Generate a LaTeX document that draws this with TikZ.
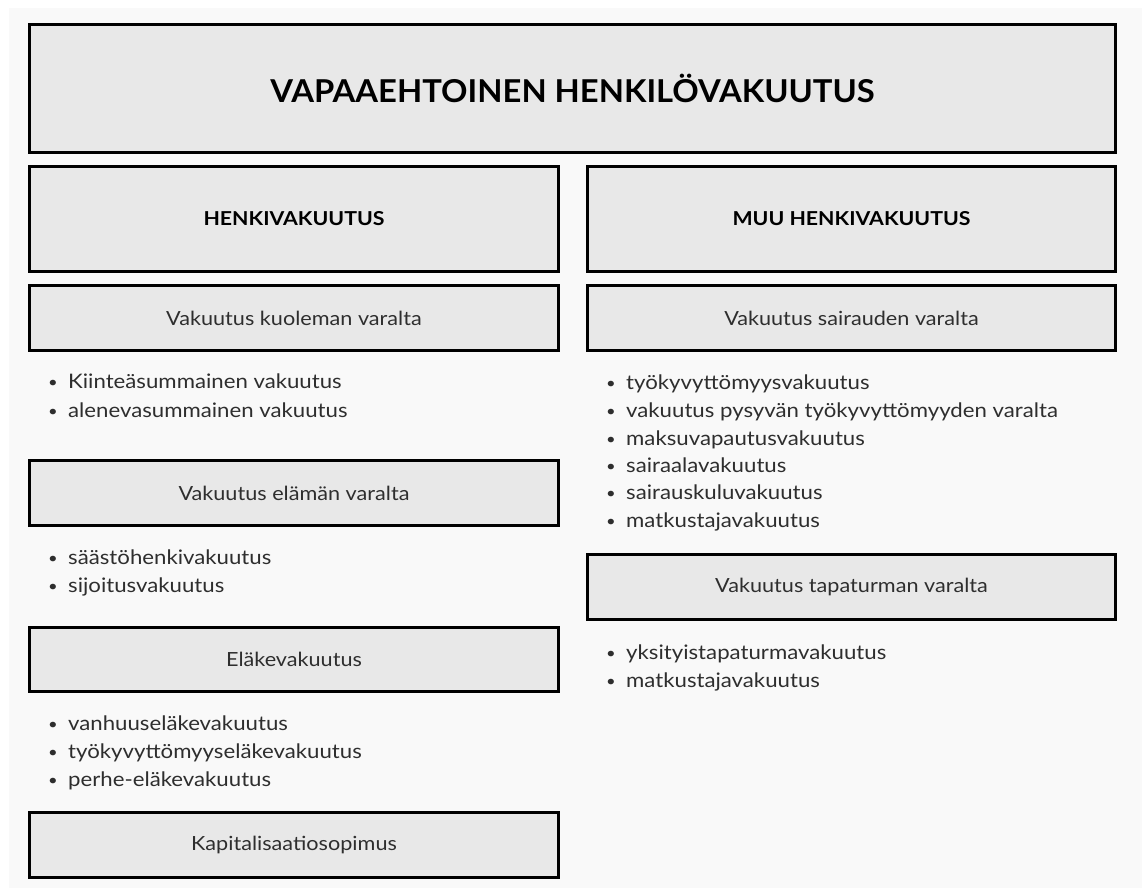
\documentclass[tikz,border=0pt]{standalone}
\usepackage{fontspec}
\setmainfont{Lato}[FakeStretch=1.11]
\newfontfamily\titlefont{Lato}[FakeStretch=1.04]
\definecolor{bgc}{HTML}{F9F9F9}
\definecolor{boxc}{HTML}{E8E8E8}
\definecolor{txt}{HTML}{2E2E2E}
\newcommand{\bul}{\makebox[20pt][l]{\raisebox{1.3pt}{\fontsize{15}{15}\selectfont •}}}
\begin{document}
\begin{tikzpicture}[x=1pt,y=-1pt,
  box/.style={draw=black, fill=boxc, line width=3pt, inner sep=0pt, text=txt, font=\fontsize{19.5}{22}\selectfont},
  lbox/.style={box, minimum width=529pt},
  rbox/.style={box, minimum width=528pt},
  head/.style={text=black, font=\fontsize{19.2}{22}\selectfont\bfseries},
  item/.style={anchor=west, inner sep=0pt, text height=1ex, text depth=0pt, text=txt, font=\fontsize{20}{22}\selectfont}]
\useasboundingbox (0,0) rectangle (1142,888);
\fill[white] (0,0) rectangle (1142,888);
\fill[bgc] (9,8) rectangle (1142,888);
% header boxes
\node[box, minimum width=1086pt, minimum height=128pt, text=black, font=\titlefont\fontsize{31.5}{36}\selectfont\bfseries] (title) at (572.5,88.5) {VAPAAEHTOINEN HENKILÖVAKUUTUS};
\node[lbox, head, minimum height=105pt] (henki) at (294,219) {HENKIVAKUUTUS};
\node[rbox, head, minimum height=105pt] (muu) at (851.5,219) {MUU HENKIVAKUUTUS};
% left column
\node[lbox, minimum height=65pt] (kuol) at (294,318) {Vakuutus kuoleman varalta};
\node[item] (k1) at (48,386) {\bul Kiinteäsummainen vakuutus};
\node[item] (k2) at (48,415) {\bul alenevasummainen vakuutus};
\node[lbox, minimum height=65pt] (elam) at (294,493) {Vakuutus elämän varalta};
\node[item] (e1) at (48,562) {\bul säästöhenkivakuutus};
\node[item] (e2) at (48,590) {\bul sijoitusvakuutus};
\node[lbox, minimum height=64pt] (elake) at (294,659.5) {Eläkevakuutus};
\node[item] (p1) at (48,728) {\bul vanhuuseläkevakuutus};
\node[item] (p2) at (48,756) {\bul työkyvyttömyyseläkevakuutus};
\node[item] (p3) at (48,784) {\bul perhe-eläkevakuutus};
\node[lbox, minimum height=65pt] (kapi) at (294,845) {Kapitalisaatiosopimus};
% right column
\node[rbox, minimum height=65pt] (sair) at (851.5,318) {Vakuutus sairauden varalta};
\node[item] (s1) at (606,387) {\bul työkyvyttömyysvakuutus};
\node[item] (s2) at (606,415) {\bul vakuutus pysyvän työkyvyttömyyden varalta};
\node[item] (s3) at (606,443) {\bul maksuvapautusvakuutus};
\node[item] (s4) at (606,470) {\bul sairaalavakuutus};
\node[item] (s5) at (606,497) {\bul sairauskuluvakuutus};
\node[item] (s6) at (606,525) {\bul matkustajavakuutus};
\node[rbox, minimum height=65pt] (tapa) at (851.5,587) {Vakuutus tapaturman varalta};
\node[item] (t1) at (606,657) {\bul yksityistapaturmavakuutus};
\node[item] (t2) at (606,685) {\bul matkustajavakuutus};
\end{tikzpicture}
\end{document}
